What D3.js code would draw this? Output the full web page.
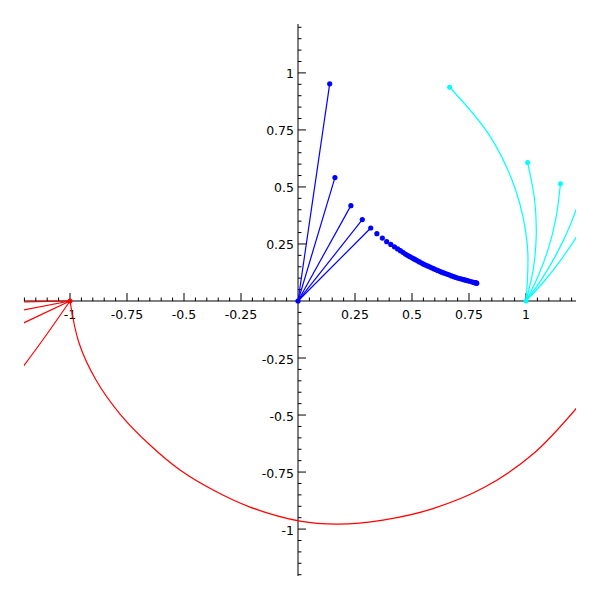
<!DOCTYPE html>
<html><head><meta charset="utf-8">
<script src="https://cdn.jsdelivr.net/npm/d3@7"></script>
<style>body{margin:0;background:#fff}svg{display:block}</style>
</head><body>
<svg id="chart" width="600" height="600"></svg>
<script>
// ---- data ----
const origin = [0, 0];
const blueTips = [[0.139,0.952],[0.162,0.541],[0.232,0.418],[0.282,0.357],[0.319,0.320]];
const blueChain = [
 [0.346,0.295],[0.370,0.276],[0.389,0.260],[0.407,0.248],[0.423,0.2375],[0.437,0.2283],
 [0.449,0.2204],[0.460,0.2132],[0.471,0.2059],[0.480,0.2004],[0.489,0.1954],[0.498,0.1905],
 [0.507,0.1856],[0.515,0.1812],[0.524,0.1762],[0.533,0.1713],[0.542,0.1664],[0.551,0.1615],
 [0.559,0.1579],[0.568,0.1539],[0.577,0.1498],[0.586,0.1457],[0.595,0.1417],[0.603,0.1380],
 [0.612,0.1340],[0.621,0.1299],[0.630,0.1264],[0.639,0.1231],[0.647,0.1201],[0.656,0.1168],
 [0.665,0.1135],[0.674,0.1101],[0.683,0.1068],[0.691,0.1038],[0.700,0.1009],[0.709,0.0985],
 [0.718,0.0960],[0.727,0.0935],[0.735,0.0914],[0.744,0.0889],[0.753,0.0865],[0.762,0.0840],
 [0.771,0.0815],[0.776,0.0801],[0.780,0.0790],[0.782,0.0785],[0.784,0.0780]
];
const cyanCurve1 = [[1,0],[1.006,0.244],[0.953,0.491],[0.839,0.727],[0.665,0.937]];
const cyanCurve2 = [[1,0],[1.032,0.140],[1.045,0.290],[1.0375,0.446],[1.007,0.607]];
const cyanCurve3 = [[1,0],[1.054,0.1105],[1.099,0.233],[1.132,0.367],[1.151,0.514]];
const cyanCurve4 = [[1,0],[1.069,0.0956],[1.133,0.2045],[1.1915,0.327],[1.242,0.463]];
const cyanCurve5 = [[1,0],[1.0795,0.0865],[1.158,0.187],[1.234,0.302],[1.306,0.433]];
const cyanTips = [[0.665,0.937],[1.007,0.607],[1.151,0.514]];
const redCurve1 = [[-1,0],[-1.2193,-0.0044]];
const redCurve2 = [[-1,0],[-1.2193,-0.0421]];
const redCurve3 = [[-1,0],[-1.2193,-0.1035]];
const redCurve4 = [[-1,0],[-1.1009,-0.1447],[-1.2193,-0.307]];
const redCurve5 = [[-1,0],[-0.9605,-0.1842],[-0.886,-0.3465],[-0.7807,-0.4956],[-0.6491,-0.6316],
 [-0.5175,-0.7412],[-0.364,-0.8333],[-0.2105,-0.9035],[0.0088,-0.9649],[0.1754,-0.9781],
 [0.3728,-0.9605],[0.5921,-0.9101],[0.8114,-0.8202],[1.0307,-0.6711],[1.2368,-0.4518]];
const tickValues = [-1,-0.75,-0.5,-0.25,0.25,0.5,0.75,1];
const tickLabels = ["-1","-0.75","-0.5","-0.25","0.25","0.5","0.75","1"];

// ---- drawing ----
const svg = d3.select("#chart");
const L = 24, R = 576, T = 24, B = 576;
const x = d3.scaleLinear().domain([-1.2018, 1.2193]).range([L, R]);
const y = d3.scaleLinear().domain([-1.2057, 1.2144]).range([B, T]);

svg.append("defs").append("clipPath").attr("id","clip")
  .append("rect").attr("x",L).attr("y",T).attr("width",R-L).attr("height",B-T);

// axes
const ax = svg.append("g").attr("stroke","#000").attr("stroke-width",1);
ax.append("line").attr("x1",L).attr("x2",R).attr("y1",y(0)).attr("y2",y(0));
ax.append("line").attr("x1",x(0)).attr("x2",x(0)).attr("y1",T).attr("y2",B);

const minorX = d3.range(-24, 25).map(k => k*0.05).filter(v => x(v) >= L && x(v) <= R && Math.abs(v) > 1e-9 && Math.abs(v*4 - Math.round(v*4)) > 1e-6);
const minorY = d3.range(-24, 25).map(k => k*0.05).filter(v => y(v) >= T && y(v) <= B && Math.abs(v) > 1e-9 && Math.abs(v*4 - Math.round(v*4)) > 1e-6);

ax.selectAll("line.mx").data(minorX).join("line").attr("class","mx")
  .attr("x1",d=>x(d)).attr("x2",d=>x(d)).attr("y1",y(0)).attr("y2",y(0)-3.5);
ax.selectAll("line.Mx").data(tickValues).join("line").attr("class","Mx")
  .attr("x1",d=>x(d)).attr("x2",d=>x(d)).attr("y1",y(0)).attr("y2",y(0)-8);
ax.selectAll("line.my").data(minorY).join("line").attr("class","my")
  .attr("y1",d=>y(d)).attr("y2",d=>y(d)).attr("x1",x(0)).attr("x2",x(0)+3.5);
ax.selectAll("line.My").data(tickValues).join("line").attr("class","My")
  .attr("y1",d=>y(d)).attr("y2",d=>y(d)).attr("x1",x(0)).attr("x2",x(0)+8);

const font = "'DejaVu Sans', sans-serif";
svg.append("g").selectAll("text").data(tickValues).join("text")
  .attr("x",d=>x(d)).attr("y",y(0)+18.5).attr("text-anchor","middle")
  .attr("font-family",font).attr("font-size",12.5).attr("fill","#000")
  .text((d,i)=>tickLabels[i]);
svg.append("g").selectAll("text").data(tickValues).join("text")
  .attr("x",x(0)-4).attr("y",d=>y(d)+5.5).attr("text-anchor","end")
  .attr("font-family",font).attr("font-size",12.5).attr("fill","#000")
  .text((d,i)=>tickLabels[i]);

// data layer
const g = svg.append("g").attr("clip-path","url(#clip)");
const straight = d3.line().x(d=>x(d[0])).y(d=>y(d[1]));
const smooth = d3.line().x(d=>x(d[0])).y(d=>y(d[1])).curve(d3.curveCatmullRom.alpha(0.5));

// red
[redCurve1, redCurve2, redCurve3, redCurve4, redCurve5].forEach(c => {
  g.append("path").attr("d", smooth(c)).attr("fill","none").attr("stroke","#ff0000").attr("stroke-width",1.2);
});
g.append("circle").attr("cx",x(-1)).attr("cy",y(0)).attr("r",2.5).attr("fill","#ff0000");

// cyan
[cyanCurve1, cyanCurve2, cyanCurve3, cyanCurve4, cyanCurve5].forEach(c => {
  g.append("path").attr("d", smooth(c)).attr("fill","none").attr("stroke","#00ffff").attr("stroke-width",1.2);
});
g.selectAll("circle.ct").data(cyanTips.concat([[1,0]])).join("circle").attr("class","ct")
  .attr("cx",d=>x(d[0])).attr("cy",d=>y(d[1])).attr("r",2.5).attr("fill","#00ffff");

// blue
blueTips.forEach(p => {
  g.append("path").attr("d", straight([origin, p])).attr("fill","none").attr("stroke","#0000ff").attr("stroke-width",1.2);
});
g.selectAll("circle.b").data([origin].concat(blueTips, blueChain)).join("circle").attr("class","b")
  .attr("cx",d=>x(d[0])).attr("cy",d=>y(d[1])).attr("r",2.6).attr("fill","#0000ff");
</script>
</body></html>
